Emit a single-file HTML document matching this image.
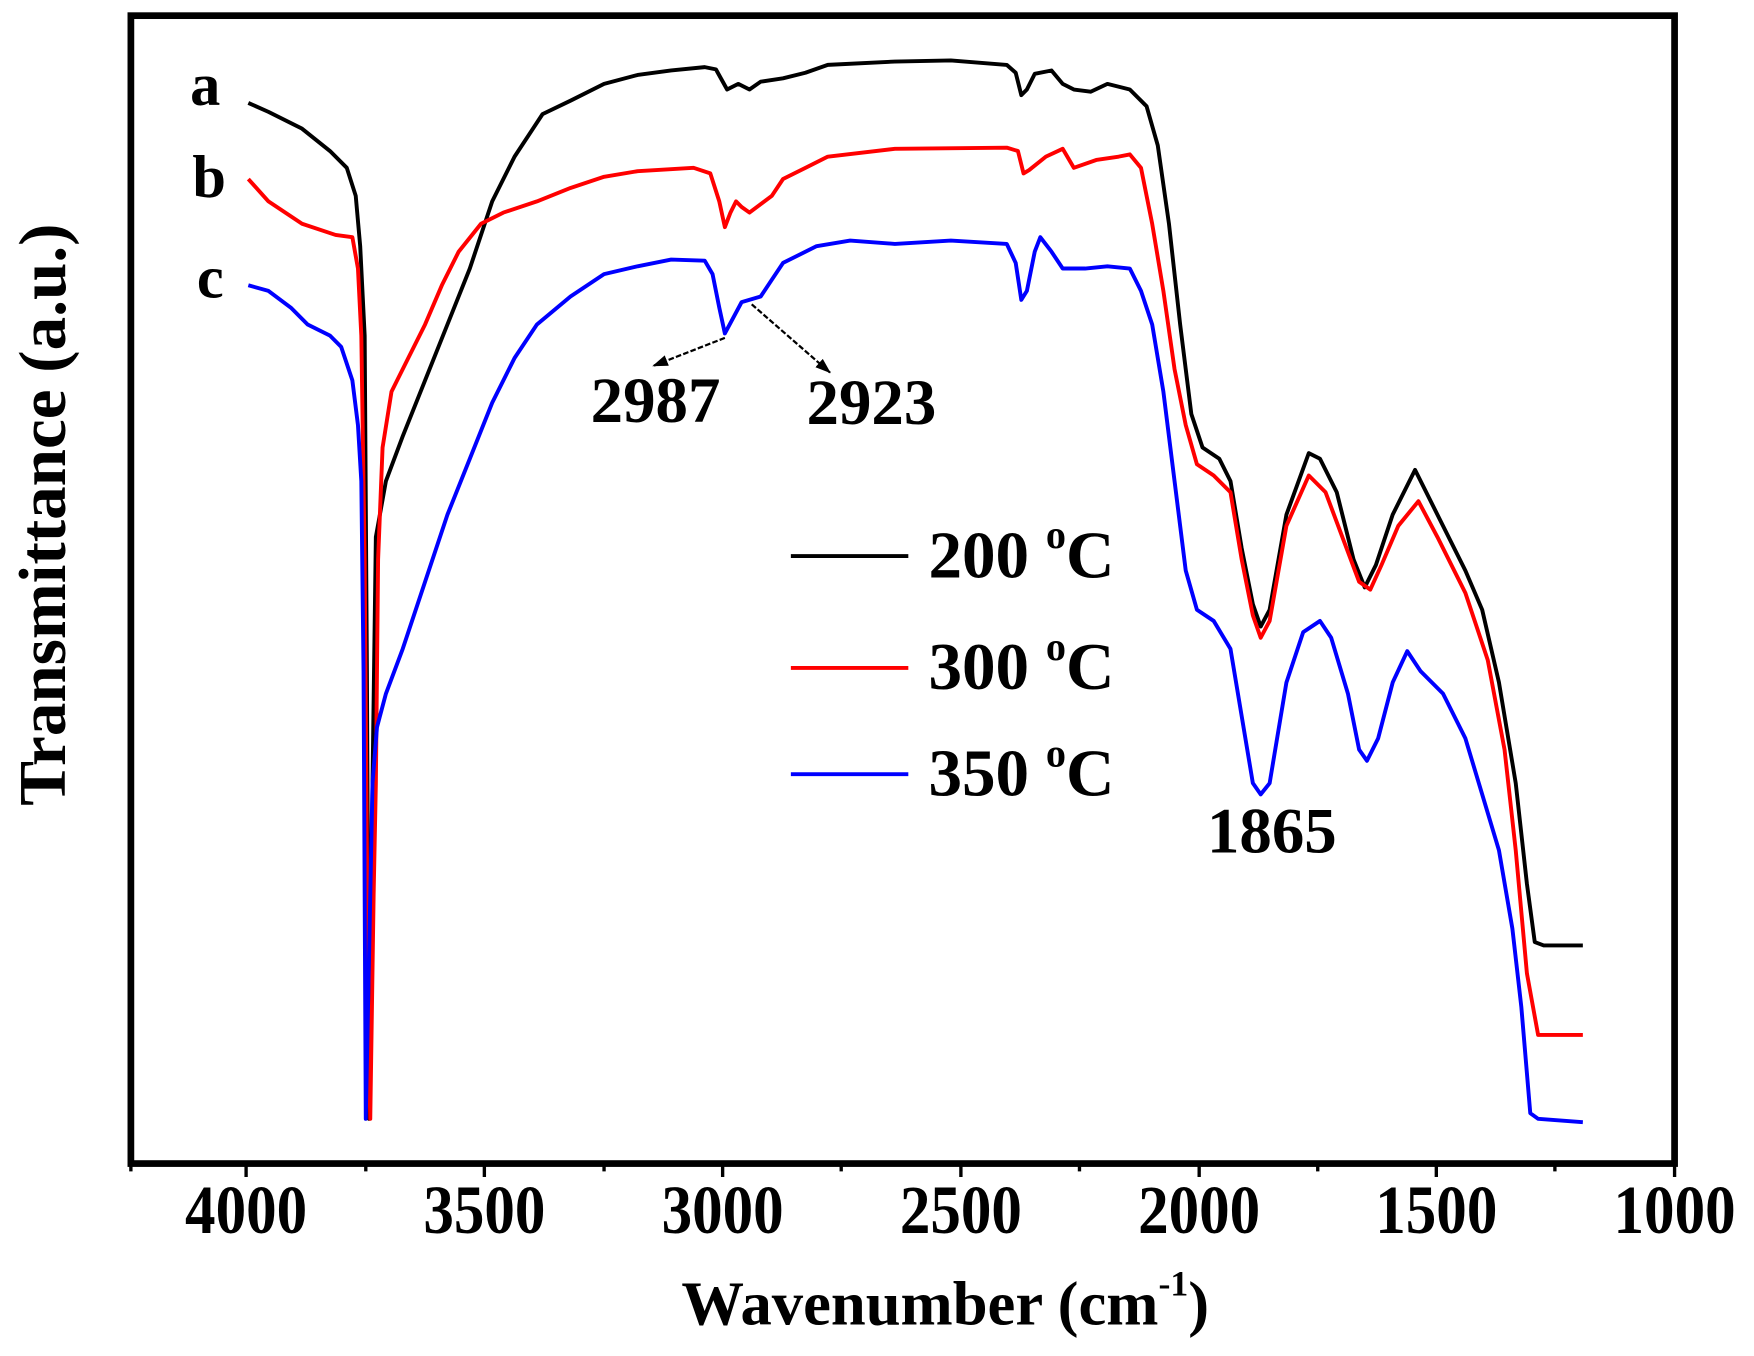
<!DOCTYPE html>
<html><head><meta charset="utf-8"><style>
html,body{margin:0;padding:0;background:#fff;}
svg{display:block;}
text{font-family:"Liberation Serif",serif;font-weight:bold;fill:#000;}
</style></head><body>
<svg width="1754" height="1356" viewBox="0 0 1568 1212" preserveAspectRatio="none" xmlns="http://www.w3.org/2000/svg">
<defs><marker id="ar" markerWidth="14" markerHeight="10" refX="13" refY="5" orient="auto" markerUnits="userSpaceOnUse"><path d="M0,0 L14,5 L0,10 z" fill="#000"/></marker></defs>
<rect x="117" y="14" width="1380" height="1026" fill="none" stroke="#000" stroke-width="6"/>
<g stroke="#000" stroke-width="3">
<line x1="220" y1="1040" x2="220" y2="1052"/><line x1="433" y1="1040" x2="433" y2="1052"/><line x1="646" y1="1040" x2="646" y2="1052"/><line x1="859" y1="1040" x2="859" y2="1052"/><line x1="1072" y1="1040" x2="1072" y2="1052"/><line x1="1284" y1="1040" x2="1284" y2="1052"/><line x1="1497" y1="1040" x2="1497" y2="1052"/>
<line x1="117" y1="1040" x2="117" y2="1047"/><line x1="327" y1="1040" x2="327" y2="1047"/><line x1="540" y1="1040" x2="540" y2="1047"/><line x1="752" y1="1040" x2="752" y2="1047"/><line x1="965" y1="1040" x2="965" y2="1047"/><line x1="1178" y1="1040" x2="1178" y2="1047"/><line x1="1390" y1="1040" x2="1390" y2="1047"/>
</g>
<g font-size="62" text-anchor="middle">
<text x="220" y="1102" transform="translate(220 0) scale(0.88 1) translate(-220 0)">4000</text>
<text x="433" y="1102" transform="translate(433 0) scale(0.88 1) translate(-433 0)">3500</text>
<text x="646" y="1102" transform="translate(646 0) scale(0.88 1) translate(-646 0)">3000</text>
<text x="859" y="1102" transform="translate(859 0) scale(0.88 1) translate(-859 0)">2500</text>
<text x="1072" y="1102" transform="translate(1072 0) scale(0.88 1) translate(-1072 0)">2000</text>
<text x="1284" y="1102" transform="translate(1284 0) scale(0.88 1) translate(-1284 0)">1500</text>
<text x="1497" y="1102" transform="translate(1497 0) scale(0.88 1) translate(-1497 0)">1000</text>
</g>
<text x="845" y="1184" font-size="56" text-anchor="middle">Wavenumber (cm<tspan font-size="32" dy="-26">-1</tspan><tspan dy="26">)</tspan></text>
<text transform="translate(58 460) rotate(-90)" font-size="60" text-anchor="middle">Transmittance (a.u.)</text>
<g fill="none" stroke-width="3.5" stroke-linejoin="round">
<polyline stroke="#000" points="222,92 240,100 270,115 295,135 310,150 318,175 322,220 326,300 328,600 330,1000 333,700 336,480 345,430 360,390 380,340 400,290 420,240 440,180 460,140 485,102 510,90 540,75 570,67 600,63 630,60 640,62 650,80 660,75 670,80 680,73 700,70 720,65 740,58 800,55 850,54 900,58 908,65 913,85 918,80 925,66 940,63 950,75 960,80 975,82 990,75 1010,80 1025,95 1035,130 1045,200 1055,290 1065,370 1075,400 1090,410 1100,430 1110,490 1120,540 1127,560 1135,545 1150,460 1170,405 1180,410 1195,440 1210,500 1220,525 1230,505 1245,460 1265,420 1275,440 1290,470 1310,510 1325,545 1340,610 1355,700 1365,790 1372,842 1380,845 1415,845"/>
<polyline stroke="#f00" points="222,160 240,180 270,200 300,210 315,212 320,240 323,300 326,500 329,900 331,1000 334,800 336,700 338,500 342,400 350,350 365,320 380,290 395,255 410,225 430,200 450,190 480,180 510,168 540,158 570,153 620,150 635,155 643,180 648,203 653,190 658,180 663,185 670,190 690,175 700,160 720,150 740,140 800,133 900,132 910,135 915,155 920,152 935,140 950,133 960,150 980,143 1000,140 1010,138 1020,150 1030,200 1040,260 1050,330 1060,380 1070,415 1085,425 1100,440 1110,500 1120,550 1127,570 1135,555 1150,470 1170,425 1185,440 1200,480 1215,520 1225,527 1235,505 1250,470 1268,448 1285,480 1310,530 1330,590 1345,670 1355,760 1365,870 1375,925 1415,925"/>
<polyline stroke="#00f" points="222,255 240,260 260,275 275,290 295,300 305,310 315,340 320,380 323,430 325,600 327,1000 329,900 331,800 333,700 337,650 345,620 360,580 380,520 400,460 420,410 440,360 460,320 480,290 510,265 540,245 570,238 600,232 630,233 637,245 643,275 648,298 655,285 663,270 680,265 690,250 700,235 730,220 760,215 800,218 850,215 900,218 908,235 913,268 918,260 925,225 930,212 940,225 950,240 970,240 990,238 1010,240 1020,260 1030,290 1040,350 1050,430 1060,510 1070,545 1085,555 1100,580 1110,640 1120,700 1127,710 1135,700 1150,610 1165,565 1180,555 1190,570 1205,620 1215,670 1222,680 1232,660 1245,610 1258,582 1270,600 1290,620 1310,660 1325,710 1340,760 1352,830 1360,900 1368,995 1375,1000 1415,1003"/>
<line x1="707" y1="497" x2="812" y2="497" stroke="#000"/>
<line x1="707" y1="597" x2="812" y2="597" stroke="#f00"/>
<line x1="707" y1="692" x2="812" y2="692" stroke="#00f"/>
</g>
<g font-size="60">
<text x="830" y="516">200 <tspan font-size="36" dy="-26">o</tspan><tspan dy="26">C</tspan></text>
<text x="830" y="616">300 <tspan font-size="36" dy="-26">o</tspan><tspan dy="26">C</tspan></text>
<text x="830" y="711">350 <tspan font-size="36" dy="-26">o</tspan><tspan dy="26">C</tspan></text>
</g>
<g font-size="54">
<text x="170" y="94">a</text>
<text x="172" y="176">b</text>
<text x="176" y="266">c</text>
</g>
<g font-size="58" text-anchor="middle">
<text x="586" y="377">2987</text>
<text x="779" y="379">2923</text>
<text x="1137" y="762">1865</text>
</g>
<g stroke="#000" stroke-width="2" stroke-dasharray="5,2">
<line x1="648" y1="302" x2="584" y2="327" marker-end="url(#ar)"/>
<line x1="672" y1="272" x2="742" y2="333" marker-end="url(#ar)"/>
</g>
</svg>
</body></html>
